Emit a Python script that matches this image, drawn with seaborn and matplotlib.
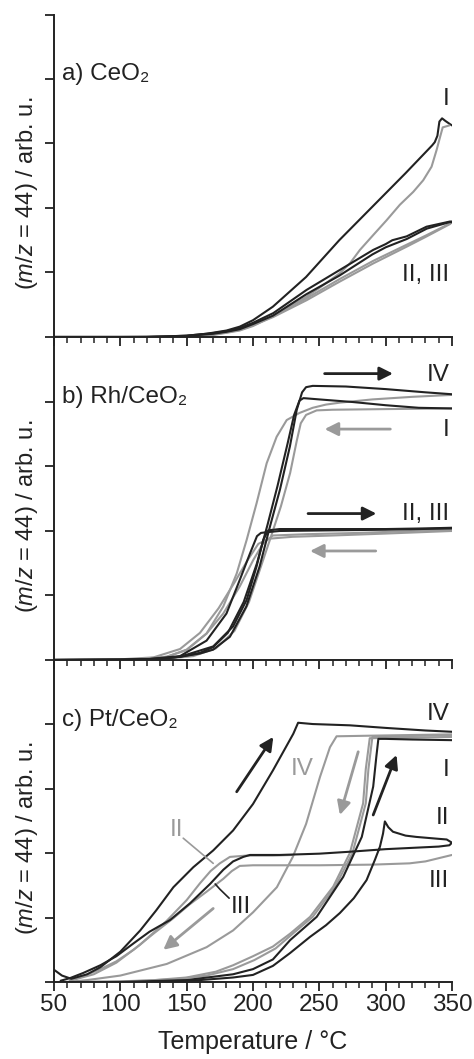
import matplotlib
matplotlib.use("Agg")
import matplotlib.pyplot as plt
import seaborn as sns

# ---- data (temperature in degC, signal in arb. units) ----
DARK = "#222222"
GREY = "#9a9a9a"

# a) CeO2
a_I_heat_T = [50, 100, 130, 150, 165, 180, 190, 200, 215, 240, 265, 290, 315, 335, 337, 339, 340.5, 342.5, 345, 348.5, 350]
a_I_heat_y = [0, 0, 0.005, 0.02, 0.05, 0.1, 0.16, 0.26, 0.47, 0.93, 1.5, 2.02, 2.54, 2.97, 3.02, 3.12, 3.34, 3.39, 3.35, 3.3, 3.28]
a_I_cool_T = [348, 343, 341, 338.4, 334.6, 328.3, 320.8, 310.7, 300.7, 290.6, 280.6, 273, 265.5, 250, 240, 215, 200, 190, 170, 140, 100, 50]
a_I_cool_y = [3.28, 3.25, 3.1, 2.9, 2.64, 2.43, 2.25, 2.05, 1.81, 1.58, 1.35, 1.14, 0.99, 0.76, 0.62, 0.32, 0.17, 0.1, 0.03, 0.0, 0, 0]
a_II_heat_T = [50, 120, 150, 170, 180, 190.2, 200, 215.3, 240.4, 265.5, 290.6, 300, 305, 315.8, 330.8, 348.4, 350]
a_II_heat_y = [0, 0, 0.02, 0.06, 0.09, 0.14, 0.22, 0.37, 0.73, 1.04, 1.35, 1.44, 1.5, 1.56, 1.71, 1.79, 1.79]
a_III_heat_T = [50, 120, 150, 170, 180, 190, 200, 215, 240, 265, 290, 300, 316, 331, 348, 350]
a_III_heat_y = [0, 0, 0.015, 0.05, 0.08, 0.12, 0.2, 0.33, 0.66, 0.95, 1.28, 1.39, 1.52, 1.68, 1.78, 1.78]
a_cool_T = [350, 348.4, 330, 315.8, 290.6, 265.5, 240.4, 215.3, 200, 190.2, 180, 170, 150, 120, 50]
a_II_cool_y = [1.78, 1.75, 1.55, 1.4, 1.14, 0.86, 0.57, 0.31, 0.18, 0.11, 0.07, 0.04, 0.01, 0, 0]
a_III_cool_y = [1.78, 1.76, 1.57, 1.43, 1.18, 0.9, 0.6, 0.33, 0.19, 0.12, 0.075, 0.045, 0.012, 0, 0]

# b) Rh/CeO2
b_IV_heat_T = [50, 100, 130, 145, 160, 170, 182.6, 195, 205, 212.8, 220.3, 227.8, 233, 237, 240, 245, 270, 300, 330, 350]
b_IV_heat_y = [0, 0, 0.02, 0.05, 0.1, 0.16, 0.36, 0.83, 1.45, 2.07, 2.64, 3.31, 3.88, 4.15, 4.23, 4.25, 4.24, 4.2, 4.15, 4.12]
b_I_heat_T = [50, 100, 130, 145, 160, 170, 181, 193, 203, 211, 218.5, 226, 231, 235, 238, 250, 275, 300, 325, 350]
b_I_heat_y = [0, 0, 0.02, 0.05, 0.11, 0.2, 0.42, 0.9, 1.5, 2.1, 2.7, 3.35, 3.8, 4.02, 4.06, 4.04, 4.0, 3.95, 3.91, 3.9]
b_IV_cool_T = [350, 320, 290, 265.5, 255, 245, 235, 225.4, 217.8, 210.3, 202.7, 195.2, 187.7, 177.6, 165, 150, 135, 115, 80, 50]
b_IV_cool_y = [4.11, 4.08, 4.04, 3.99, 3.96, 3.91, 3.83, 3.72, 3.46, 3.05, 2.43, 1.86, 1.34, 0.83, 0.41, 0.155, 0.05, 0.01, 0, 0]
b_I_cool_T = [350, 300, 260, 248, 240, 236, 233, 228, 221, 213.5, 206, 197, 186, 172, 155, 130, 50]
b_I_cool_y = [3.9, 3.89, 3.88, 3.87, 3.8, 3.67, 3.4, 2.9, 2.38, 1.91, 1.45, 0.9, 0.45, 0.18, 0.06, 0.01, 0]
b_II_heat_T = [50, 120, 145, 170, 185, 195.2, 202.7, 207.7, 211.5, 220, 260, 300, 330, 350]
b_II_heat_y = [0, 0.01, 0.05, 0.21, 0.52, 0.93, 1.45, 1.86, 2.01, 2.03, 2.03, 2.03, 2.04, 2.05]
b_III_heat_T = [50, 120, 145, 165, 180, 190, 197.7, 203, 206, 210, 220, 260, 300, 350]
b_III_heat_y = [0, 0.01, 0.06, 0.3, 0.72, 1.24, 1.65, 1.92, 1.97, 1.98, 2.0, 2.01, 2.02, 2.04]
b_II_cool_T = [350, 320, 280, 240, 215, 207.7, 200.2, 190, 177.6, 165, 150, 135, 110, 50]
b_II_cool_y = [2.02, 2.0, 1.97, 1.95, 1.93, 1.81, 1.55, 1.14, 0.72, 0.41, 0.16, 0.05, 0.01, 0]
b_III_cool_T = [350, 300, 260, 230, 212, 204, 196, 186, 174, 160, 145, 125, 100, 50]
b_III_cool_y = [2.0, 1.96, 1.93, 1.91, 1.88, 1.8, 1.55, 1.2, 0.8, 0.42, 0.17, 0.04, 0.01, 0]

# c) Pt/CeO2
c_IV_heat_T = [50, 56, 63, 75, 85, 100, 115, 127, 140, 155, 170, 185, 200, 215, 230.4, 234, 245, 273, 300, 330, 350]
c_IV_heat_y = [0.19, 0.1, 0.05, 0.12, 0.23, 0.47, 0.8, 1.11, 1.47, 1.78, 2.04, 2.35, 2.76, 3.28, 3.85, 4.02, 4.0, 3.98, 3.94, 3.9, 3.88]
c_IV_cool_T = [350, 320, 290, 263, 258, 250.5, 240, 230, 218, 200, 185, 165, 135, 100, 75, 60]
c_IV_cool_y = [3.84, 3.83, 3.82, 3.81, 3.64, 3.18, 2.45, 1.94, 1.47, 1.08, 0.8, 0.54, 0.28, 0.1, 0.03, 0.0]
c_I_cool_T = [350, 320, 288, 285, 283, 273, 260.5, 243, 228, 215, 200, 185, 172, 150, 120, 90, 60]
c_I_cool_y = [3.8, 3.79, 3.78, 3.3, 2.77, 2.0, 1.48, 1.01, 0.75, 0.55, 0.4, 0.26, 0.16, 0.07, 0.02, 0.0, 0.0]
c_III_cool_T = [350, 290, 287, 285, 275, 262, 245, 230, 217, 201, 185, 165, 140, 100, 60]
c_III_cool_y = [3.83, 3.8, 3.3, 2.77, 2.0, 1.48, 1.01, 0.75, 0.52, 0.34, 0.2, 0.1, 0.04, 0.01, 0]
c_I_heat_T = [55, 100, 150, 185, 200, 215, 228, 248, 268, 282, 290.6, 293, 294.5, 300, 320, 350]
c_I_heat_y = [0, 0.0, 0.03, 0.12, 0.2, 0.35, 0.65, 1.01, 1.63, 2.25, 3.03, 3.5, 3.77, 3.77, 3.76, 3.75]
c_II_loop_T = [55, 120, 160, 185, 200, 215, 228, 243, 255, 265.5, 276, 285.6, 292, 295.7, 298, 299.4, 302, 305.5,
               315, 323, 340, 346, 350, 348, 340, 300, 273, 250, 220, 205, 197.7, 192.7, 185, 177.6, 172.6,
               167.6, 152.5, 137.4, 122, 110, 97, 85, 72, 62, 55]
c_II_loop_y = [0, 0, 0.03, 0.07, 0.11, 0.25, 0.45, 0.7, 0.88, 1.07, 1.3, 1.58, 1.9, 2.1, 2.3, 2.49, 2.4, 2.33,
               2.27, 2.25, 2.22, 2.21, 2.16, 2.12, 2.1, 2.06, 2.02, 1.99, 1.97, 1.97, 1.97, 1.94, 1.87, 1.74, 1.63,
               1.52, 1.22, 0.96, 0.78, 0.6, 0.4, 0.26, 0.14, 0.06, 0.02]
c_II_grey_T = [62, 80, 97, 115, 135, 150, 160, 168, 175, 182.6, 195, 215, 230]
c_II_grey_y = [0.02, 0.12, 0.3, 0.58, 0.95, 1.27, 1.53, 1.72, 1.84, 1.94, 1.96, 1.96, 1.97]
c_III_grey_T = [350, 340, 330, 318, 290, 250, 220, 200, 190, 184, 177.6, 165, 152, 140, 125, 110, 97, 85, 72, 62]
c_III_grey_y = [1.97, 1.92, 1.87, 1.84, 1.82, 1.81, 1.81, 1.81, 1.8, 1.72, 1.6, 1.4, 1.2, 0.99, 0.75, 0.5, 0.32, 0.2, 0.09, 0.02]

panels = {
    "a": [(a_I_heat_T, a_I_heat_y, DARK), (a_I_cool_T, a_I_cool_y, GREY),
          (a_cool_T, a_II_cool_y, GREY), (a_cool_T, a_III_cool_y, GREY),
          (a_II_heat_T, a_II_heat_y, DARK), (a_III_heat_T, a_III_heat_y, DARK)],
    "b": [(b_IV_cool_T, b_IV_cool_y, GREY), (b_I_cool_T, b_I_cool_y, GREY),
          (b_II_cool_T, b_II_cool_y, GREY), (b_III_cool_T, b_III_cool_y, GREY),
          (b_IV_heat_T, b_IV_heat_y, DARK), (b_I_heat_T, b_I_heat_y, DARK),
          (b_II_heat_T, b_II_heat_y, DARK), (b_III_heat_T, b_III_heat_y, DARK)],
    "c": [(c_IV_cool_T, c_IV_cool_y, GREY), (c_I_cool_T, c_I_cool_y, GREY),
          (c_III_cool_T, c_III_cool_y, GREY), (c_II_grey_T, c_II_grey_y, GREY),
          (c_III_grey_T, c_III_grey_y, GREY),
          (c_IV_heat_T, c_IV_heat_y, DARK), (c_I_heat_T, c_I_heat_y, DARK),
          (c_II_loop_T, c_II_loop_y, DARK)],
}
titles = {"a": "a) CeO₂", "b": "b) Rh/CeO₂", "c": "c) Pt/CeO₂"}

sns.set_theme(style="ticks")
plt.rcParams["font.family"] = ["Liberation Sans", "DejaVu Sans"]
plt.rcParams["mathtext.fontset"] = "custom"
plt.rcParams["mathtext.it"] = "Liberation Sans:italic"
plt.rcParams["mathtext.rm"] = "Liberation Sans"
FS = 17.5

fig = plt.figure(figsize=(4.74, 10.59), dpi=100)
left, width = 54 / 474, 398 / 474
bottoms = {"a": 0.6818, "b": 0.3768, "c": 0.0727}
height = 0.3045

axes = {}
for key in ["a", "b", "c"]:
    ax = fig.add_axes([left, bottoms[key], width, height])
    ax.set_facecolor("none")
    for T, y, col in panels[key]:
        sns.lineplot(x=T, y=y, sort=False, estimator=None, color=col, lw=1.5, ax=ax)
    ax.set_xlim(50, 350)
    ax.set_ylim(0, 5)
    ax.set_yticks([0, 1, 2, 3, 4, 5] if key == "a" else [0, 1, 2, 3, 4])
    ax.set_xticks(range(50, 351, 50))
    ax.set_xticks(range(50, 351, 10), minor=True)
    sns.despine(ax=ax)
    for s in ["left", "bottom"]:
        ax.spines[s].set_linewidth(1.4)
        ax.spines[s].set_color(DARK)
    ax.tick_params(axis="y", direction="out", length=6.7, width=1.3, color=DARK, labelleft=False)
    ax.tick_params(axis="x", which="major", direction="out", length=6.7, width=1.3, color=DARK,
                   labelsize=FS, pad=2, labelcolor=DARK)
    ax.tick_params(axis="x", which="minor", direction="out", length=4.3, width=1.1, color=DARK)
    if key != "c":
        ax.tick_params(axis="x", labelbottom=False)
    ax.set_ylabel(r"($\mathit{m/z}$ = 44) / arb. u.", fontsize=FS - 0.5, color=DARK)
    ax.yaxis.set_label_coords(-0.035, 0.447)
    ax.set_xlabel("")
    ax.text(56, 4.07, titles[key], fontsize=FS, color=DARK, va="center", ha="left")
    axes[key] = ax

axc = axes["c"]
axc.set_xlabel("Temperature / °C", fontsize=FS + 0.5, color=DARK, labelpad=10)

# labels on the right
def rlabel(ax, y, s, col=DARK):
    ax.text(348, y, s, fontsize=FS, color=col, ha="right", va="center")

rlabel(axes["a"], 3.69, "I")
rlabel(axes["a"], 0.96, "II, III")
rlabel(axes["b"], 4.42, "IV")
rlabel(axes["b"], 3.57, "I")
rlabel(axes["b"], 2.26, "II, III")
rlabel(axc, 4.15, "IV")
rlabel(axc, 3.29, "I")
rlabel(axc, 2.54, "II")
rlabel(axc, 1.56, "III")
axc.text(237, 3.31, "IV", fontsize=FS, color=GREY, ha="center", va="center")
axc.text(142, 2.36, "II", fontsize=FS, color=GREY, ha="center", va="center")
axc.text(191, 1.17, "III", fontsize=FS, color=DARK, ha="center", va="center")
axc.plot([147.4, 170], [2.23, 1.84], color=GREY, lw=1.2)
axc.plot([182, 175, 171.5], [1.3, 1.44, 1.52], color=DARK, lw=1.2)

# arrows
def arrow(ax, x0, y0, x1, y1, col):
    ax.annotate("", xy=(x1, y1), xytext=(x0, y0),
                arrowprops=dict(arrowstyle="-|>", color=col, lw=2, mutation_scale=20,
                                shrinkA=0, shrinkB=0))

arrow(axes["b"], 254, 4.44, 305.5, 4.44, DARK)
arrow(axes["b"], 303.5, 3.58, 254, 3.58, GREY)
arrow(axes["b"], 241.5, 2.27, 293, 2.27, DARK)
arrow(axes["b"], 292.5, 1.69, 243, 1.69, GREY)
arrow(axc, 187.7, 2.95, 215.3, 3.8, DARK)
arrow(axc, 170, 1.14, 132.4, 0.5, GREY)
arrow(axc, 279.3, 3.57, 265.5, 2.59, GREY)
arrow(axc, 290.6, 2.59, 308.2, 3.52, DARK)

fig.savefig("out.png", dpi=100)
